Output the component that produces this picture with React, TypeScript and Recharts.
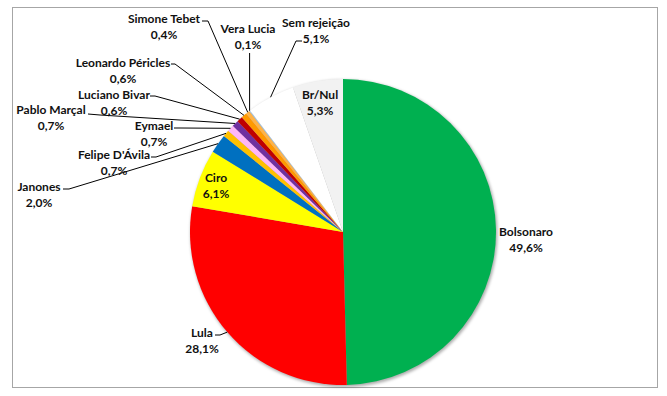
import React from 'react';
import { PieChart, Pie, Cell } from 'recharts';

const candidates = [
  'Bolsonaro', 'Lula', 'Ciro', 'Janones', "Felipe D'Ávila", 'Eymael', 'Pablo Marçal',
  'Luciano Bivar', 'Leonardo Péricles', 'Simone Tebet', 'Vera Lucia', 'Sem rejeição', 'Br/Nul',
];
const shares = [49.6, 28.1, 6.1, 2.0, 0.7, 0.7, 0.7, 0.6, 0.6, 0.4, 0.1, 5.1, 5.3];
const sliceColors = [
  '#00B050', '#FF0000', '#FFFF00', '#0070C0', '#FFC000', '#FFB7F7', '#7030A0',
  '#C00000', '#FF9900', '#FFB347', '#9DC3E6', '#FFFFFF', '#F2F2F2',
];

const data = candidates.map((name, i) => ({ name, value: shares[i] }));

// label layout: text centre x, first baseline y, optional leader line start & elbow
type LabelPos = { x: number; y: number; start?: [number, number]; elbow?: [number, number] };
const labelLayout: LabelPos[] = [
  { x: 526, y: 236 },
  { x: 202, y: 337, start: [215, 335], elbow: [220, 335] },
  { x: 216, y: 182 },
  { x: 39, y: 191, start: [63, 189], elbow: [69, 189] },
  { x: 114, y: 159, start: [151, 157], elbow: [156, 157] },
  { x: 154, y: 130, start: [174, 128], elbow: [180, 128] },
  { x: 51, y: 114, start: [88, 114], elbow: [100, 115] },
  { x: 114, y: 99, start: [150, 96], elbow: [155, 96] },
  { x: 123, y: 67, start: [171, 64], elbow: [175, 64] },
  { x: 164, y: 23, start: [202, 21], elbow: [208, 21] },
  { x: 248, y: 33 },
  { x: 316, y: 27, start: [302, 41], elbow: [296, 41] },
  { x: 320, y: 99 },
];

const RAD = Math.PI / 180;
const fmt = (v: number) => v.toFixed(1).replace('.', ',') + '%';

const renderLabel = (props: any) => {
  const { cx, cy, midAngle, outerRadius, index } = props;
  const lay = labelLayout[index];
  const name = candidates[index];
  const value = shares[index];
  const ex = cx + outerRadius * Math.cos(-midAngle * RAD);
  const ey = cy + outerRadius * Math.sin(-midAngle * RAD);
  let line: React.ReactNode = null;
  if (lay.start) {
    const pts = [lay.start, lay.elbow || lay.start, [ex, ey]];
    line = (
      <polyline
        points={pts.map((p) => p.join(',')).join(' ')}
        fill="none"
        stroke="#000"
        strokeWidth={1}
      />
    );
  } else if (index === 10) {
    line = <line x1={ex} y1={53} x2={ex} y2={ey} stroke="#000" strokeWidth={1} />;
  }
  return (
    <g key={`lbl-${index}`}>
      {line}
      <text
        x={lay.x}
        y={lay.y}
        textAnchor="middle"
        fontFamily="Lato, sans-serif"
        fontWeight={700}
        fontSize={12}
        fill="#111"
      >
        <tspan x={lay.x} y={lay.y}>{name}</tspan>
        <tspan x={lay.x} y={lay.y + 15.5}>{fmt(value)}</tspan>
      </text>
    </g>
  );
};

export default function App() {
  return (
    <div style={{ position: 'absolute', left: 0, top: 0, width: 667, height: 396, background: '#fff' }}>
      <div
        style={{
          position: 'absolute',
          left: 12,
          top: 7,
          width: 646,
          height: 381,
          boxSizing: 'border-box',
          border: '1px solid #a6a6a6',
        }}
      />
      <div style={{ position: 'absolute', left: 0, top: 0 }}>
        <PieChart width={667} height={396} margin={{ top: 0, right: 0, bottom: 0, left: 0 }}>
          <defs>
            <filter id="pieShadow" x="-10%" y="-10%" width="120%" height="120%">
              <feGaussianBlur stdDeviation="1.8" />
            </filter>
          </defs>
          <Pie
            data={[{ name: 'shadow', value: 1 }]}
            dataKey="value"
            cx={344}
            cy={233.5}
            outerRadius={153.5}
            startAngle={90}
            endAngle={-270}
            stroke="none"
            isAnimationActive={false}
            label={false}
            labelLine={false}
          >
            <Cell fill="#000" fillOpacity={0.32} filter="url(#pieShadow)" />
          </Pie>
          <Pie
            data={data}
            dataKey="value"
            nameKey="name"
            cx={343}
            cy={232}
            outerRadius={153}
            startAngle={90}
            endAngle={-270}
            stroke="none"
            isAnimationActive={false}
            label={renderLabel}
            labelLine={false}
          >
            {data.map((d, i) => (
              <Cell key={d.name} fill={sliceColors[i]} stroke="none" />
            ))}
          </Pie>
        </PieChart>
      </div>
    </div>
  );
}
